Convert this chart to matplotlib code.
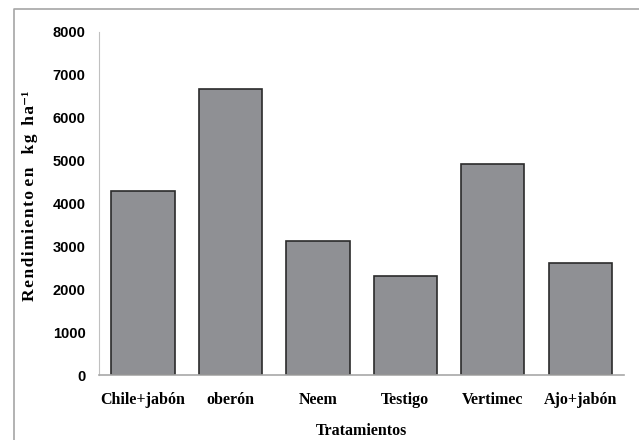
import matplotlib
matplotlib.use("Agg")
import matplotlib.pyplot as plt
from matplotlib.lines import Line2D

# Datos
tratamientos = ["Chile+jabón", "oberón", "Neem", "Testigo", "Vertimec", "Ajo+jabón"]
rendimiento = [4300, 6680, 3120, 2320, 4920, 2610]
yticks = [0, 1000, 2000, 3000, 4000, 5000, 6000, 7000, 8000]

serif = ["Liberation Serif", "DejaVu Serif"]
sans = ["Liberation Sans", "DejaVu Sans"]


def espaciar(palabra):
    # texto con letras algo separadas, como en el original
    return "\u200a".join(palabra)


fig = plt.figure(figsize=(6.39, 4.40), dpi=100)
ax = fig.add_axes([0.1554, 0.1477, 0.8211, 0.7796])

x = range(len(tratamientos))
ax.bar(x, rendimiento, width=0.724, color="#8f9094", edgecolor="#2b2b2b", linewidth=1.2)

ax.set_xlim(-0.5, len(tratamientos) - 0.5)
ax.set_ylim(0, 8000)
ax.set_yticks(yticks)
ax.set_yticklabels([str(v) for v in yticks], family=sans, fontweight="bold", fontsize=10.5)
ax.set_xticks(list(x))
ax.set_xticklabels(tratamientos, family=serif, fontweight="bold", fontsize=11.5)
ax.tick_params(axis="both", length=0)
ax.tick_params(axis="y", pad=10)
ax.tick_params(axis="x", pad=12)

for s in ["top", "right"]:
    ax.spines[s].set_visible(False)
ax.spines["left"].set_color("#c0c0c0")
ax.spines["bottom"].set_color("#a8a8a8")
ax.spines["bottom"].set_linewidth(1.2)

ax.set_xlabel("Tratamientos", family=serif, fontweight="bold", fontsize=11.5, labelpad=11)

ylab = (espaciar("Rendimiento") + " " + espaciar("en") + "   " + espaciar("kg")
        + "  " + espaciar("ha") + "\u207b\u00b9")
fig.text(0.047, 0.556, ylab, family=serif,
         fontweight="bold", fontsize=12.5, rotation=90, ha="center", va="center")

# marco exterior
fig.add_artist(Line2D([14 / 639, 14 / 639, 1], [0, 1 - 9 / 440, 1 - 9 / 440],
                      transform=fig.transFigure, color="#a6a6a6", linewidth=1.2))

fig.savefig("out.png", dpi=100)
